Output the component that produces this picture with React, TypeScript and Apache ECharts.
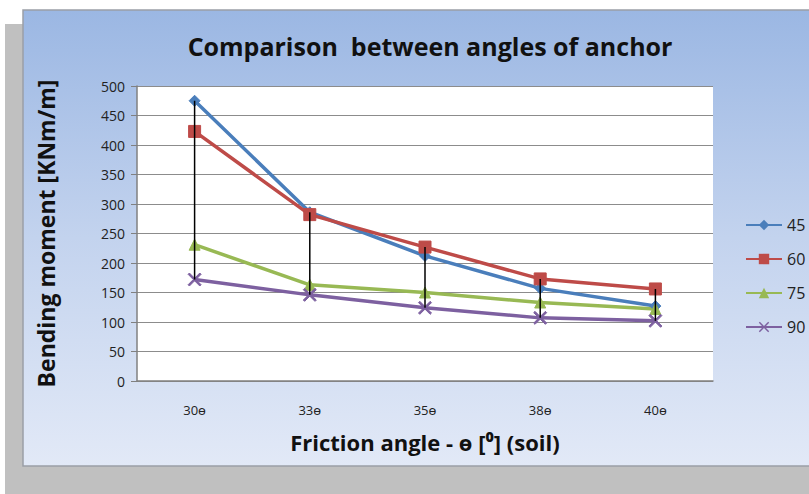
import React, { useEffect, useRef } from "react";
import * as echarts from "echarts";

const categories = ["30ɵ", "33ɵ", "35ɵ", "38ɵ", "40ɵ"];
const seriesNames = ["45", "60", "75", "90"];
const s45 = [475, 286, 212, 157, 127];
const s60 = [423, 282, 227, 173, 156];
const s75 = [231, 163, 150, 133, 122];
const s90 = [172, 146, 124, 107, 102];
const yTicks = { min: 0, max: 500, interval: 50 };

const colors = ["#4a7ebb", "#be4b48", "#98b954", "#7d60a0"];
const symbols = [
  "diamond",
  "rect",
  "triangle",
  "path://M0,1L1,0L5,4L9,0L10,1L6,5L10,9L9,10L5,6L1,10L0,9L4,5Z",
];
const symbolSizes = [11, 12, 11, 13];

export default function App() {
  const ref = useRef<HTMLDivElement>(null);
  useEffect(() => {
    if (!ref.current) return;
    const chart = echarts.init(ref.current, undefined, { renderer: "svg" });
    const all = [s45, s60, s75, s90];
    const hiLo = categories.map((_, i) => {
      const vals = all.map((s) => s[i]);
      return [i, Math.max(...vals), Math.min(...vals)];
    });
    const font = "'Open Sans', 'Noto Sans', sans-serif";
    chart.setOption({
      animation: false,
      graphic: [
        {
          type: "rect",
          z: -10,
          shape: { x: 5, y: 24, width: 810, height: 480 },
          style: { fill: "#c0c0c0" },
          silent: true,
        },
        {
          type: "rect",
          z: -9,
          shape: { x: 23, y: 10, width: 800, height: 456 },
          style: {
            fill: new echarts.graphic.LinearGradient(0, 0, 0, 1, [
              { offset: 0, color: "#9bb7e3" },
              { offset: 0.5, color: "#c3d3ee" },
              { offset: 1, color: "#e2e9f7" },
            ]),
            stroke: "#9a9ea6",
            lineWidth: 1.5,
          },
          silent: true,
        },
        {
          type: "rect",
          z: -8,
          shape: { x: 137, y: 86, width: 576, height: 295 },
          style: { fill: "#ffffff" },
          silent: true,
        },
      ],
      title: {
        text: "Comparison  between angles of anchor",
        left: 425,
        textAlign: "center",
        top: 28,
        textStyle: { fontFamily: font, fontSize: 25, fontWeight: "bold", color: "#111" },
      },
      legend: {
        data: seriesNames,
        orient: "vertical",
        left: 740,
        top: 212,
        itemWidth: 36,
        itemHeight: 13,
        itemGap: 18,
        textStyle: { fontFamily: font, fontSize: 16, color: "#222" },
      },
      grid: { left: 137, top: 86, right: 96, bottom: 113 },
      xAxis: {
        type: "category",
        data: categories,
        boundaryGap: true,
        name: "Friction angle - ɵ [⁰] (soil)",
        nameLocation: "middle",
        nameGap: 50,
        nameTextStyle: { fontFamily: font, fontSize: 22, fontWeight: "bold", color: "#111" },
        axisLine: { lineStyle: { color: "#808080", width: 1.5 } },
        axisTick: { show: false },
        axisLabel: { fontFamily: font, fontSize: 13, color: "#222", margin: 22 },
      },
      yAxis: {
        type: "value",
        min: yTicks.min,
        max: yTicks.max,
        interval: yTicks.interval,
        name: "Bending moment [KNm/m]",
        nameLocation: "middle",
        nameGap: 80,
        nameTextStyle: { fontFamily: font, fontSize: 23, fontWeight: "bold", color: "#111" },
        axisLine: { show: true, lineStyle: { color: "#808080", width: 1.5 } },
        axisTick: { show: true, length: 6, lineStyle: { color: "#808080" } },
        axisLabel: { fontFamily: font, fontSize: 14, color: "#222", margin: 12 },
        splitLine: { lineStyle: { color: "#8c8c8c", width: 1.2 } },
      },
      series: [
        ...all.map((d, i) => ({
          name: seriesNames[i],
          type: "line",
          data: d,
          symbol: symbols[i],
          symbolSize: symbolSizes[i],
          showSymbol: true,
          lineStyle: { color: colors[i], width: 3.5 },
          itemStyle: { color: colors[i], borderColor: colors[i] },
          z: 2,
        })),
        {
          type: "custom",
          name: "hilo",
          data: hiLo,
          z: 5,
          renderItem: (params: any, api: any) => {
            const p1 = api.coord([api.value(0), api.value(1)]);
            const p2 = api.coord([api.value(0), api.value(2)]);
            return {
              type: "line",
              shape: { x1: p1[0], y1: p1[1], x2: p2[0], y2: p2[1] },
              style: { stroke: "#000", lineWidth: 1.5 },
            };
          },
        },
      ],
    });
    return () => chart.dispose();
  }, []);
  return (
    <div
      ref={ref}
      style={{ position: "fixed", left: 0, top: 0, width: 809, height: 494, background: "#fff" }}
    />
  );
}
